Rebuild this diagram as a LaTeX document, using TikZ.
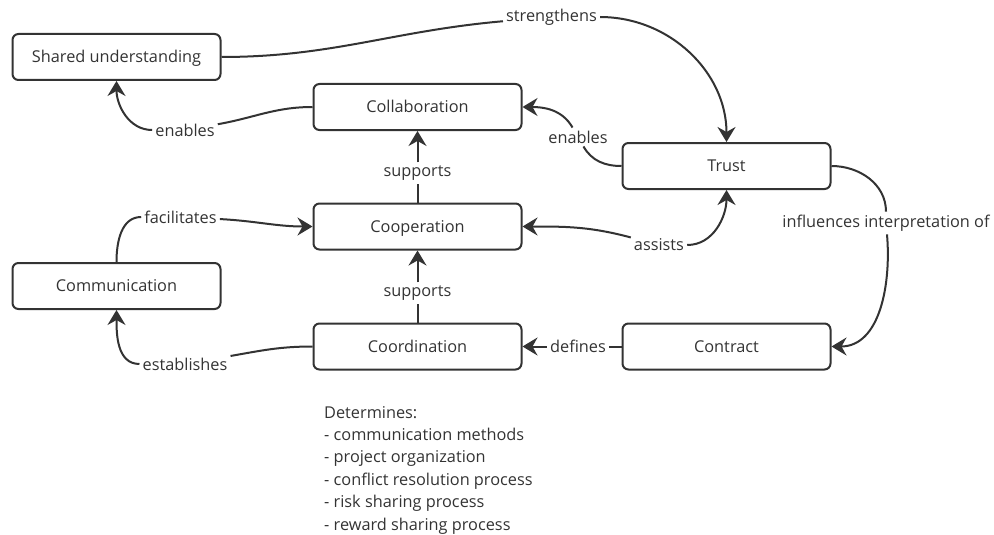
\documentclass[tikz,border=0pt]{standalone}
\usepackage{fontspec}
\setmainfont{Open Sans}
\usetikzlibrary{arrows.meta}
\definecolor{ink}{HTML}{333333}
\begin{document}
\begin{tikzpicture}[x=1pt,y=-1pt,
  box/.style={draw=ink, line width=2pt, rounded corners=6pt,
    minimum width=208pt, minimum height=46pt, inner sep=0pt,
    text height=11.6pt, text depth=0pt,
    text=ink, font=\fontsize{16.3}{19}\selectfont},
  lbl/.style={text=ink, inner sep=3pt, font=\fontsize{16.3}{19}\selectfont},
  link/.style={draw=ink, line width=2pt},
  tip/.style={-{Stealth[length=15pt,width=18pt,inset=5pt]}}
]
\useasboundingbox (0,0) rectangle (994,535);

% concepts
\node[box] (su)   at (116.5,57)    {Shared understanding};
\node[box] (col)  at (417.5,107)   {Collaboration};
\node[box] (tr)   at (726.5,166)   {Trust};
\node[box] (coop) at (417.5,226.5) {Cooperation};
\node[box] (com)  at (116.5,286)   {Communication};
\node[box] (crd)  at (417.5,346.5) {Coordination};
\node[box] (ctr)  at (726.5,346.5) {Contract};

% relation labels
\node[lbl] (l-str)  at (551.5,17)  {strengthens};
\node[lbl] (l-en1)  at (185,130)   {enables};
\node[lbl] (l-en2)  at (578,137)   {enables};
\node[lbl] (l-sup1) at (417.5,173) {supports};
\node[lbl] (l-fac)  at (180.5,217) {facilitates};
\node[lbl] (l-as)   at (659,245)   {assists};
\node[lbl] (l-sup2) at (417.5,293) {supports};
\node[lbl] (l-est)  at (185,364)   {establishes};
\node[lbl] (l-def)  at (578,346.5) {defines};
\node[lbl] (l-inf)  at (886,223)   {influences interpretation of};

% relations
\draw[link,tip] (su.east) to[out=0,in=185] (l-str) to[out=0,in=90] (tr.north);
\draw[link,tip] (col.west) to[out=180,in=10] (l-en1) to[out=180,in=-90] (su.south);
\draw[link,tip] (tr.west) to[out=180,in=-60] (l-en2) to[out=120,in=0] (col.east);
\draw[link,tip] (coop.north) -- (l-sup1) -- (col.south);
\draw[link,tip] (com.north) to[out=90,in=180] (l-fac) to[out=-3,in=180] (coop.west);
\draw[link,tip] (l-as) to[out=165,in=0] (coop.east);
\draw[link,tip] (l-as) to[out=0,in=-90] (tr.south);
\draw[link,tip] (crd.north) -- (l-sup2) -- (coop.south);
\draw[link,tip] (crd.west) to[out=180,in=10] (l-est) to[out=180,in=-90] (com.south);
\draw[link,tip] (ctr.west) -- (l-def) -- (crd.east);
\draw[link,tip] (tr.east) to[out=0,in=90] (l-inf) to[out=-85,in=0] (ctr.east);

% note on coordination
\node[anchor=north west, align=left, inner sep=0pt, text=ink,
  font=\fontsize{16.3}{22.4}\selectfont] (det) at (324,406)
  {Determines:\\- communication methods\\- project organization\\- conflict resolution process\\- risk sharing process\\- reward sharing process};
\end{tikzpicture}
\end{document}
